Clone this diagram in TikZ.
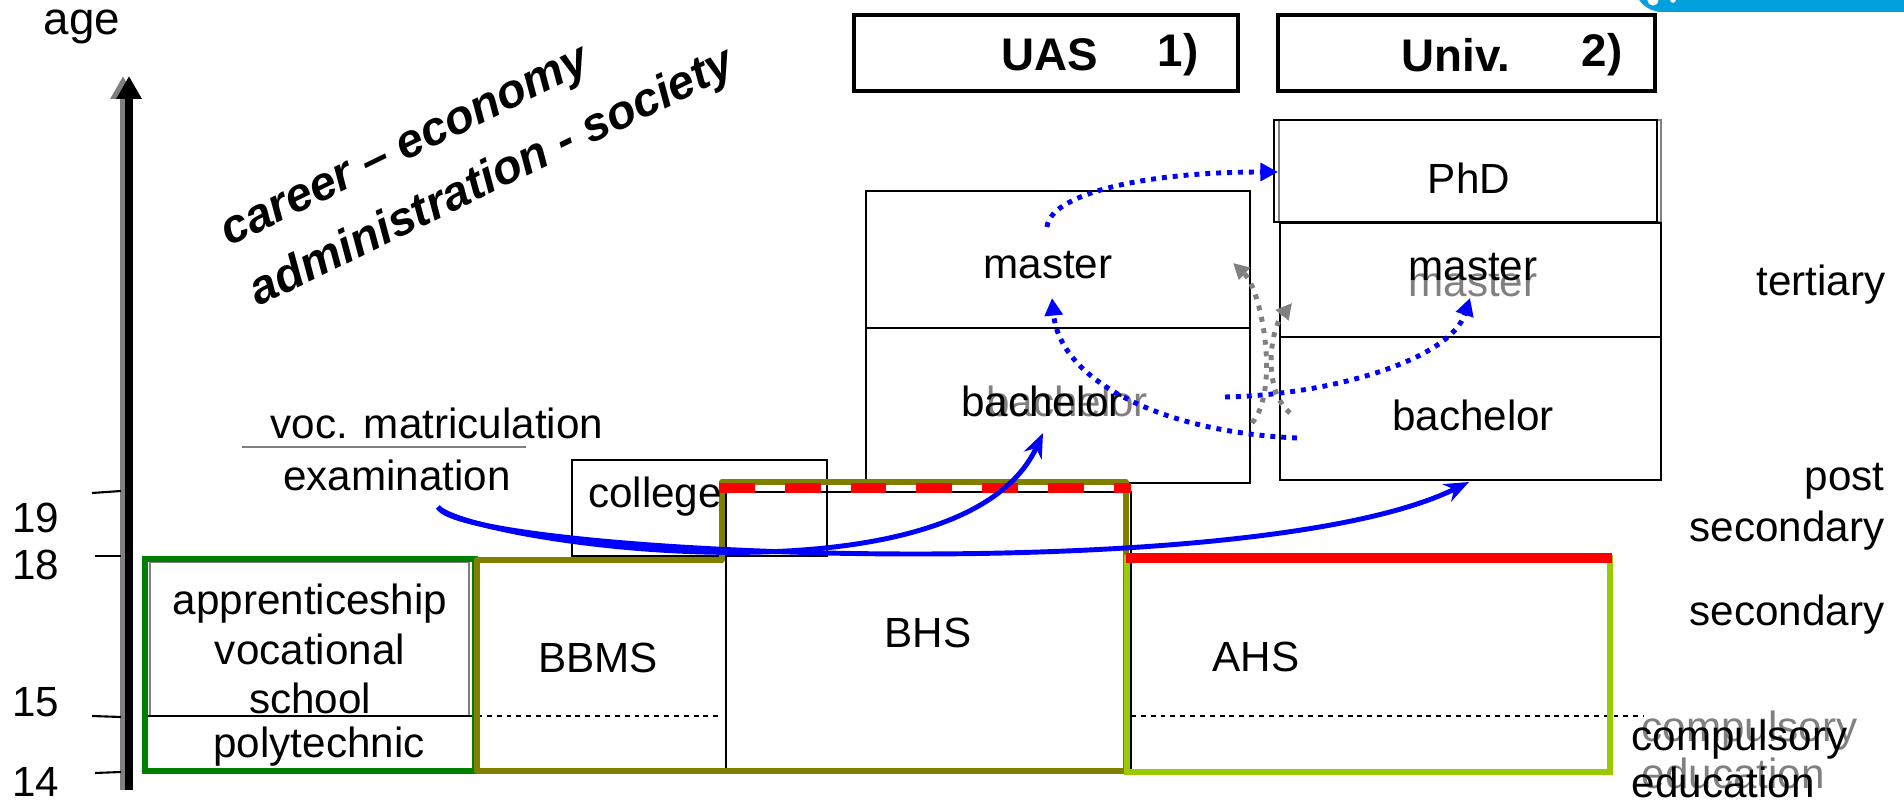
\documentclass[tikz,border=0pt]{standalone}
\usepackage{fontspec}
\setmainfont{Liberation Sans}
\usetikzlibrary{arrows.meta}
\definecolor{schoolgreen}{RGB}{0,128,0}
\definecolor{schoololive}{RGB}{128,128,0}
\definecolor{schoollime}{RGB}{153,204,0}
\definecolor{ghost}{RGB}{128,128,128}
\definecolor{logocyan}{RGB}{0,160,220}
\begin{document}
\begin{tikzpicture}[x=0.01cm, y=-0.01cm, font=\fontsize{12}{14}\selectfont,
  box/.style={draw, line width=0.6pt},
  titlebox/.style={draw, line width=1.4pt},
  title/.style={font=\fontsize{13}{15}\selectfont\bfseries},
  ghosttext/.style={text=ghost},
  side/.style={inner sep=0pt},
  route/.style={blue, line width=1.4pt, -{Stealth[length=7pt,width=5.5pt]}},
  dots/.style={blue, line width=1.4pt, dash pattern=on 1.4pt off 1.7pt, -{Triangle[length=5pt,width=5pt]}},
  greydots/.style={ghost, line width=1.4pt, dash pattern=on 1.4pt off 1.9pt, -{Triangle[length=4.5pt,width=4.5pt]}}]
\useasboundingbox (0,0) rectangle (1904,801);
\fill[logocyan, rounded corners=8pt] (1634,-30) rectangle (1930,12);
\fill[white] (1653,0) circle (1.6pt);
\fill[white] (1673,0) circle (0.8pt);

\coordinate (axisbot) at (129,790);
\coordinate (axistop) at (129,76);
\draw[ghost, line width=1.7pt, -{Triangle[length=6.5pt,width=6.8pt]}] (123,790) -- (123,76);
\draw[line width=2.3pt, -{Triangle[length=6.5pt,width=6.8pt]}] (axisbot) -- (axistop);
\node (age) at (82,27) {\fontsize{13}{15}\selectfont age};
\draw[line width=0.6pt] (92,493) -- (121,491);
\draw[line width=0.6pt] (95,556) -- (121,556);
\draw[line width=0.6pt] (92,716) -- (121,717);
\draw[line width=0.6pt] (95,773) -- (121,772);
\node (n19) at (36,518) {19};
\node (n18) at (36,565) {18};
\node (n15) at (36,702) {15};
\node (n14) at (36,782) {14};

\node[rotate=26, align=left, font=\fontsize{13.5}{19}\selectfont\bfseries\itshape] (career) at (480,153) {career – economy\\administration - society};

\draw[titlebox] (854,15) rectangle (1238,91);
\node[title] (uas) at (1050,55) {UAS};
\node[title] (uasnote) at (1178,55) {1)};
\draw[titlebox] (1278,15) rectangle (1655,91);
\node[title] (univ) at (1456,55) {Univ.};
\node[title] (univnote) at (1602,55) {2)};

\draw[ghost, line width=0.4pt] (1279,120) rectangle (1661,222);
\draw[line width=0.8pt] (1274,120) rectangle (1657,222);
\draw[box] (1280,223) rectangle (1661,337);
\draw[box] (1280,337) rectangle (1661,480);
\draw[box] (866,191) rectangle (1250,328);
\draw[box] (866,328) rectangle (1250,483);
\node (phd) at (1469,178) {PhD};
\node (uasmaster) at (1048,265) {master};
\node[ghosttext] (univmasterb) at (1473,283) {master};
\node (univmaster) at (1473,267) {master};
\node[ghosttext] (uasbachelorb) at (1067,401) {bachelor};
\node (uasbachelor) at (1042,401) {bachelor};
\node (univbachelor) at (1473,415) {bachelor};

\draw[line width=0.5pt] (572,460) rectangle (827,556);
\draw[line width=0.5pt] (726,492) rectangle (1131,771);
\draw[ghost, line width=0.4pt] (150,562) rectangle (469,716);
\draw[line width=0.6pt] (148,716) -- (474,716);
\draw[line width=0.4pt, dash pattern=on 1.4pt off 1.4pt] (477,716) -- (722,716);
\draw[line width=0.4pt, dash pattern=on 1.4pt off 1.4pt] (1131,716) -- (1644,716);
\draw[schoolgreen, line width=1.7pt] (145,559) rectangle (475,771);
\draw[schoololive, line width=1.7pt, line join=round] (477,771) -- (477,560) -- (722,560) -- (722,482) -- (1126,482) -- (1126,771) -- cycle;
\draw[schoollime, line width=1.6pt] (1127,558) rectangle (1610,772);
\draw[red, line width=2.9pt] (1126,558) -- (1612,558);
\draw[red, line width=2.8pt, dash pattern=on 10.2pt off 8.5pt] (719,488) -- (1131,488);

\node[align=center, font=\fontsize{12}{14}\selectfont] (apprentice) at (310,649) {apprenticeship\\vocational\\school};
\node (poly) at (319,747) {polytechnic};
\node (bbms) at (598,658) {BBMS};
\node (bhs) at (928,633) {BHS};
\node (ahs) at (1256,657) {AHS};
\node (college) at (655,497) {college};
\node (voc) at (437,423) {voc. matriculation};
\draw[ghost, line width=0.6pt] (242,447) -- (526,447);
\node (exam) at (397,475) {examination};

\node[side, anchor=east] (tertiary) at (1886,285) {tertiary};
\node[side, anchor=east, align=right, font=\fontsize{12}{14.5}\selectfont] (post) at (1885,507) {post\\secondary};
\node[side, anchor=east] (secondary) at (1885,615) {secondary};
\node[side, ghosttext, anchor=west, align=left, font=\fontsize{12}{13.5}\selectfont] (compulsoryb) at (1641,750) {compulsory\\education};
\node[side, anchor=west, align=left, font=\fontsize{12}{13.5}\selectfont] (compulsory) at (1631,759) {compulsory\\education};

\coordinate (vocfoot) at (438,507);
\coordinate (uasbach) at (1043,433);
\coordinate (univbach) at (1469,482);
\draw[route] (vocfoot) .. controls (465,540) and (960,615) .. (uasbach);
\draw[route] (vocfoot) .. controls (462,555) and (1250,590) .. (univbach);

\coordinate (uasmast) at (1047,227);
\coordinate (phdin) at (1278,172);
\draw[dots] (uasmast) .. controls (1050,195) and (1140,172) .. (phdin);
\coordinate (univfoot) at (1297,438);
\coordinate (uasmid) at (1052,298);
\draw[dots] (univfoot) .. controls (1160,432) and (1060,380) .. (uasmid);
\coordinate (uasfoot) at (1225,397);
\coordinate (univmid) at (1470,298);
\draw[dots] (uasfoot) .. controls (1330,395) and (1450,360) .. (univmid);

\coordinate (greya) at (1252,423);
\coordinate (greyatip) at (1233,263);
\draw[greydots] (greya) .. controls (1280,390) and (1262,290) .. (greyatip);
\coordinate (greyb) at (1290,413);
\coordinate (greybtip) at (1292,303);
\draw[greydots] (greyb) .. controls (1262,390) and (1270,330) .. (greybtip);
\end{tikzpicture}
\end{document}
